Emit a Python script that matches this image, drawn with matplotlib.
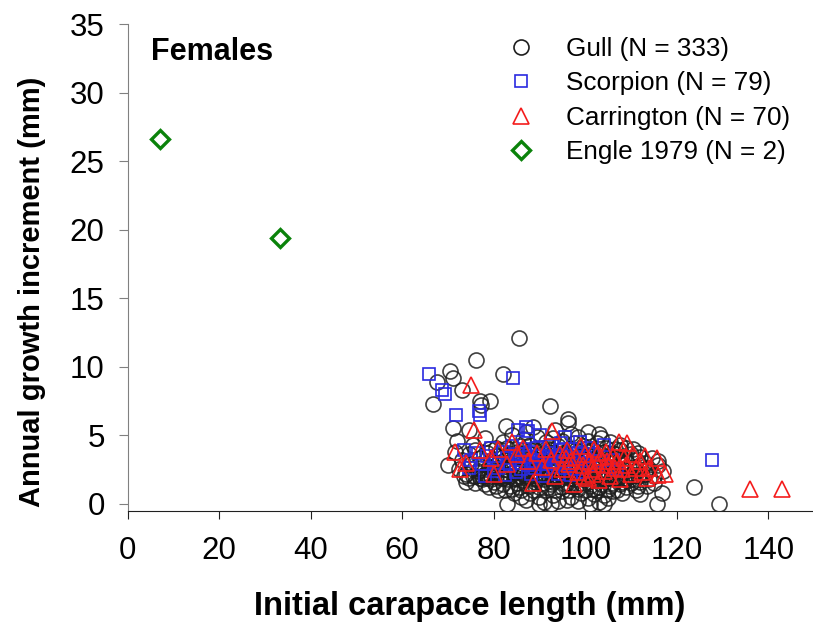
import matplotlib.pyplot as plt
from matplotlib.lines import Line2D

plt.rcParams['font.family'] = ['Liberation Sans', 'DejaVu Sans']

# (initial carapace length, annual growth increment) in mm
gull = [
    # larger increments
    (85.6, 12.1), (76.2, 10.5), (70.5, 9.7), (71.2, 9.2), (67.5, 8.9), (73.1, 8.3), (82.1, 9.5), (66.8, 7.3), (77.1, 7.5), (79.1, 7.5),
    (77.3, 7.2), (92.3, 7.1), (71.0, 5.5), (82.7, 5.7), (96.3, 6.2), (96.2, 5.9), (74.5, 5.4), (88.5, 5.6), (93.5, 5.4), (100.5, 5.2),
    # 4 - 5 mm
    (72.0, 4.6), (75.5, 4.3), (78.0, 4.8), (80.5, 4.1), (82.0, 4.5), (84.0, 5.0), (85.5, 4.2), (86.5, 4.7), (88.0, 4.3), (89.5, 4.9),
    (90.5, 4.1), (91.5, 4.5), (93.0, 4.8), (94.0, 4.2), (95.0, 4.6), (96.5, 4.0), (97.5, 4.4), (98.5, 4.9), (99.5, 4.2), (100.5, 4.6),
    (101.5, 4.0), (102.5, 4.4), (103.5, 4.8), (104.5, 4.1), (105.5, 4.5), (106.5, 4.0), (107.5, 4.3), (109.0, 4.1), (110.5, 4.0), (87.0, 5.2),
    (79.0, 4.0), (83.0, 4.1), (92.0, 4.0), (97.0, 5.1), (103.0, 5.1),
    # 3 - 4 mm
    (71.5, 3.8), (73.0, 3.2), (74.5, 3.6), (76.0, 3.9), (77.0, 3.3), (78.5, 3.7), (79.5, 3.1), (80.5, 3.5), (81.5, 3.9), (82.5, 3.2),
    (83.5, 3.6), (84.5, 3.0), (85.0, 3.8), (86.0, 3.4), (87.0, 3.1), (87.5, 3.7), (88.5, 3.3), (89.0, 3.9), (90.0, 3.5), (90.5, 3.0),
    (91.0, 3.7), (92.0, 3.3), (92.5, 3.9), (93.5, 3.1), (94.0, 3.6), (95.0, 3.2), (95.5, 3.8), (96.0, 3.4), (97.0, 3.0), (97.5, 3.6),
    (98.0, 3.9), (99.0, 3.3), (99.5, 3.7), (100.0, 3.1), (101.0, 3.5), (101.5, 3.9), (102.0, 3.2), (103.0, 3.6), (103.5, 3.0), (104.0, 3.8),
    (105.0, 3.4), (105.5, 3.1), (106.0, 3.7), (107.0, 3.3), (107.5, 3.9), (108.5, 3.5), (109.0, 3.1), (110.0, 3.6), (111.0, 3.2), (112.0, 3.4),
    (113.0, 3.0), (114.5, 3.3), (116.0, 3.1), (84.0, 3.5), (86.5, 3.9), (89.5, 3.2), (91.5, 3.4), (93.0, 3.7), (96.5, 3.9), (98.5, 3.0),
    (100.5, 3.8), (102.5, 3.4), (104.5, 3.2), (106.5, 3.6), (108.0, 3.0), (82.0, 3.4), (88.0, 3.6), (94.5, 3.4), (99.8, 3.5), (111.5, 3.7),
    # 2 - 3 mm
    (70.0, 2.8), (72.5, 2.5), (74.0, 2.2), (75.0, 2.9), (76.0, 2.0), (77.0, 2.6), (78.0, 2.1), (79.0, 2.7), (80.0, 2.3), (81.0, 2.9),
    (81.5, 2.0), (82.5, 2.5), (83.0, 2.1), (84.0, 2.8), (84.5, 2.3), (85.5, 2.0), (86.0, 2.6), (86.5, 2.2), (87.5, 2.9), (88.0, 2.0),
    (88.5, 2.4), (89.5, 2.7), (90.0, 2.1), (90.5, 2.5), (91.5, 2.0), (92.0, 2.8), (92.5, 2.3), (93.5, 2.0), (94.0, 2.6), (94.5, 2.2),
    (95.5, 2.9), (96.0, 2.0), (96.5, 2.4), (97.5, 2.7), (98.0, 2.1), (98.5, 2.5), (99.5, 2.0), (100.0, 2.8), (100.5, 2.3), (101.5, 2.0),
    (102.0, 2.6), (102.5, 2.2), (103.5, 2.9), (104.0, 2.0), (104.5, 2.4), (105.5, 2.7), (106.0, 2.1), (106.5, 2.5), (107.5, 2.0), (108.0, 2.8),
    (108.5, 2.3), (109.5, 2.6), (110.0, 2.0), (111.0, 2.4), (112.0, 2.8), (113.0, 2.2), (114.0, 2.5), (115.0, 2.0), (117.0, 2.4), (76.5, 2.4),
    (77.5, 2.0), (78.5, 1.9), (79.5, 2.0), (80.5, 2.0), (82.0, 1.9), (83.5, 2.0), (85.0, 1.9), (87.0, 2.0), (89.0, 1.9), (91.0, 2.0),
    (93.0, 1.9), (95.0, 2.0), (97.0, 1.9), (99.0, 2.0), (101.0, 1.9), (103.0, 2.0), (105.0, 1.9), (107.0, 2.0), (109.0, 1.9), (111.5, 2.0),
    (75.5, 2.0), (74.5, 1.9), (78.2, 2.2), (80.8, 2.6), (83.2, 2.7), (85.8, 2.4), (88.2, 2.6), (90.8, 2.8), (93.2, 2.5), (95.8, 2.3),
    (98.2, 2.8), (100.8, 2.6), (103.2, 2.4), (105.8, 2.2), (108.2, 2.5), (110.8, 2.7), (113.5, 2.6), (116.0, 2.8), (73.5, 2.0), (112.5, 2.1),
    # 1 - 2 mm
    (74.0, 1.6), (76.0, 1.5), (77.5, 1.8), (79.0, 1.2), (80.0, 1.6), (81.0, 1.0), (82.0, 1.4), (83.0, 1.8), (84.0, 1.1), (85.0, 1.5),
    (86.0, 1.0), (86.5, 1.7), (87.5, 1.3), (88.5, 1.0), (89.0, 1.6), (90.0, 1.2), (91.0, 1.8), (91.5, 1.0), (92.5, 1.4), (93.5, 1.0),
    (94.0, 1.7), (95.0, 1.2), (96.0, 1.5), (96.5, 1.0), (97.5, 1.8), (98.5, 1.1), (99.0, 1.5), (100.0, 1.0), (101.0, 1.3), (102.0, 1.7),
    (102.5, 1.0), (103.5, 1.4), (104.5, 1.8), (105.0, 1.1), (106.0, 1.5), (107.0, 1.0), (108.0, 1.6), (109.0, 1.2), (110.0, 1.5), (111.0, 1.0),
    (112.0, 1.6), (113.5, 1.3), (115.0, 1.5), (116.8, 0.8), (123.7, 1.2), (81.5, 1.9), (84.5, 1.8), (87.0, 1.9), (89.5, 1.8), (92.0, 1.9),
    (94.5, 1.8), (97.0, 1.9), (99.5, 1.8), (102.0, 1.9), (104.0, 1.8), (106.5, 1.9), (108.5, 1.8), (77.0, 1.9), (79.5, 1.8), (83.5, 1.3),
    (85.5, 1.2), (88.0, 1.4), (90.5, 1.5), (93.0, 1.6), (95.5, 1.4), (98.0, 1.3), (100.5, 1.6), (103.0, 1.2), (105.5, 1.3), (107.5, 1.4),
    (109.5, 1.7), (111.5, 1.3), (78.0, 1.4), (80.5, 1.3), (82.5, 1.0), (91.8, 1.2), (96.8, 1.3), (101.8, 1.1), (110.5, 1.8), (114.0, 1.8),
    # below 1 mm
    (83.0, 0.0), (89.8, 0.0), (91.0, 0.1), (92.6, 0.0), (101.0, 0.0), (103.0, 0.1), (104.2, 0.0), (115.7, 0.0), (129.2, 0.0), (86.0, 0.5),
    (88.0, 0.8), (90.0, 0.5), (93.0, 0.6), (95.0, 0.9), (97.0, 0.5), (99.0, 0.8), (100.5, 0.4), (102.0, 0.7), (104.0, 0.6), (106.0, 0.9),
    (84.5, 0.8), (87.0, 0.3), (94.0, 0.2), (96.0, 0.3), (98.5, 0.2), (105.0, 0.4), (108.0, 0.8), (112.0, 0.7),
]

scorpion = [
    (65.8, 9.5), (68.6, 8.3), (69.4, 8.0), (84.3, 9.2), (71.8, 6.5), (76.9, 6.5), (76.7, 6.8), (127.8, 3.2), (87.1, 5.6), (87.5, 5.3),
    (90.1, 5.0), (95.6, 4.9), (85.3, 5.4),
    (73.5, 3.9), (75.0, 3.2), (76.5, 3.7), (77.5, 2.9), (78.5, 3.5), (79.5, 4.1), (80.5, 3.0), (81.0, 2.6), (82.0, 3.8), (83.0, 3.3),
    (83.5, 2.8), (84.0, 4.2), (85.0, 3.6), (85.5, 3.0), (86.0, 2.5), (86.5, 4.0), (87.0, 3.4), (87.5, 2.8), (88.0, 3.8), (88.5, 3.1),
    (89.0, 2.6), (89.5, 4.1), (90.0, 3.5), (90.5, 2.9), (91.0, 3.2), (91.5, 2.4), (92.0, 3.7), (92.5, 3.0), (93.0, 2.7), (93.5, 3.4),
    (94.0, 2.2), (94.5, 3.9), (95.0, 3.1), (95.5, 2.6), (96.0, 3.5), (96.5, 2.9), (97.0, 4.0), (97.5, 3.3), (98.0, 2.5), (98.5, 3.7),
    (99.0, 3.0), (99.5, 2.3), (100.0, 3.4), (101.0, 2.8), (102.0, 3.6), (103.0, 3.1), (104.1, 4.3), (105.0, 2.7), (106.0, 3.2), (107.0, 2.5),
    (88.2, 2.2), (90.8, 2.0), (86.8, 3.6), (89.2, 3.0), (91.8, 3.5), (93.8, 2.9), (84.8, 2.3), (82.5, 2.1), (80.0, 2.4), (96.8, 2.1),
    (100.5, 4.1), (94.8, 4.4), (98.8, 4.5), (92.8, 4.2), (74.5, 2.6), (78.0, 2.0),
]

carrington = [
    (75.1, 8.7), (75.8, 5.4), (72.7, 2.5), (92.8, 5.3), (136.0, 1.1), (143.0, 1.1), (115.7, 3.3), (117.5, 2.2), (107.4, 4.5), (109.2, 4.4),
    (114.0, 2.6), (115.8, 2.1), (71.5, 3.8), (74.0, 3.0), (77.0, 3.9), (79.5, 3.3), (81.0, 4.0), (83.0, 2.9), (85.0, 3.6), (86.5, 4.1),
    (87.5, 3.1), (88.5, 1.5), (89.5, 3.7), (90.5, 2.7), (91.5, 4.0), (92.5, 3.2), (93.5, 2.0), (94.5, 3.6), (95.0, 2.5), (96.0, 3.9),
    (96.5, 2.9), (97.5, 1.4), (98.0, 3.4), (98.5, 2.3), (99.0, 4.2), (99.5, 2.8), (100.0, 3.6), (100.5, 1.9), (101.0, 3.1), (101.5, 2.5),
    (102.0, 4.0), (102.5, 2.9), (103.0, 1.7), (103.5, 3.4), (104.0, 2.4), (104.5, 3.8), (105.0, 2.8), (105.5, 2.0), (106.0, 3.5), (106.5, 2.6),
    (107.0, 3.1), (107.5, 1.8), (108.0, 2.5), (108.5, 3.3), (109.0, 2.8), (110.0, 2.2), (110.5, 3.6), (111.0, 2.6), (112.0, 3.1), (112.5, 2.3),
    (113.0, 3.5), (113.5, 1.9), (97.0, 3.1), (99.8, 2.0), (102.8, 3.7), (95.8, 3.3), (101.8, 2.2), (104.8, 3.1), (84.0, 4.5), (80.0, 2.2),
]

engle = [(7.0, 26.6), (33.4, 19.4)]

labels = ['Gull (N = 333)', 'Scorpion (N = 79)', 'Carrington (N = 70)', 'Engle 1979 (N = 2)']

# marker styles per site
styles = [
    dict(marker='o', ms=10.8, mfc='none', mec='#1e1e1e', mew=1.2, alpha=0.85),
    dict(marker='s', ms=8.6, mfc='none', mec='#2a2ae0', mew=1.2),
    dict(marker='^', ms=11.5, mfc='none', mec='#f41c1c', mew=1.2),
    dict(marker='D', ms=9.2, mfc='none', mec='#0a820a', mew=2.4),
]

fig = plt.figure(figsize=(8.13, 6.39), dpi=100)
ax = fig.add_axes([0.157, 0.2, 0.842, 0.762])

for pts, st in zip([gull, scorpion, carrington, engle], styles):
    ax.plot([p[0] for p in pts], [p[1] for p in pts], ls='none', **st)

ax.set_xlim(0, 149.6)
ax.set_ylim(-0.55, 35)
ax.set_xticks(range(0, 141, 20))
ax.set_yticks(range(0, 36, 5))

for s in ['top', 'right']:
    ax.spines[s].set_visible(False)
ax.spines['left'].set_color('#808080')
ax.spines['bottom'].set_color('#202020')
ax.tick_params(axis='y', direction='out', length=6.5, color='#808080', labelsize=22.5, pad=10)
ax.tick_params(axis='x', direction='out', length=6, color='#202020', labelsize=22.5, pad=12)

ax.set_xlabel('Initial carapace length (mm)', fontsize=23.5, fontweight='bold', va='center')
ax.xaxis.set_label_coords(0.5, -0.196)
ax.set_ylabel('Annual growth increment (mm)', fontsize=21, fontweight='bold', va='center')
ax.yaxis.set_label_coords(-0.139, 0.45)

ax.text(5.0, 33.0, 'Females', fontsize=22, fontweight='bold', va='center')

handles = [Line2D([], [], ls='none', **{k: v for k, v in st.items() if k != 'alpha'}) for st in styles]
ax.legend(handles, labels, loc='upper left', bbox_to_anchor=(496 / 813, 1 - 37 / 639),
          bbox_transform=fig.transFigure, frameon=False, fontsize=18.8,
          handlelength=1.9, handletextpad=0.8, labelspacing=0.40, borderpad=0, borderaxespad=0)

fig.savefig('out.png', dpi=100)
